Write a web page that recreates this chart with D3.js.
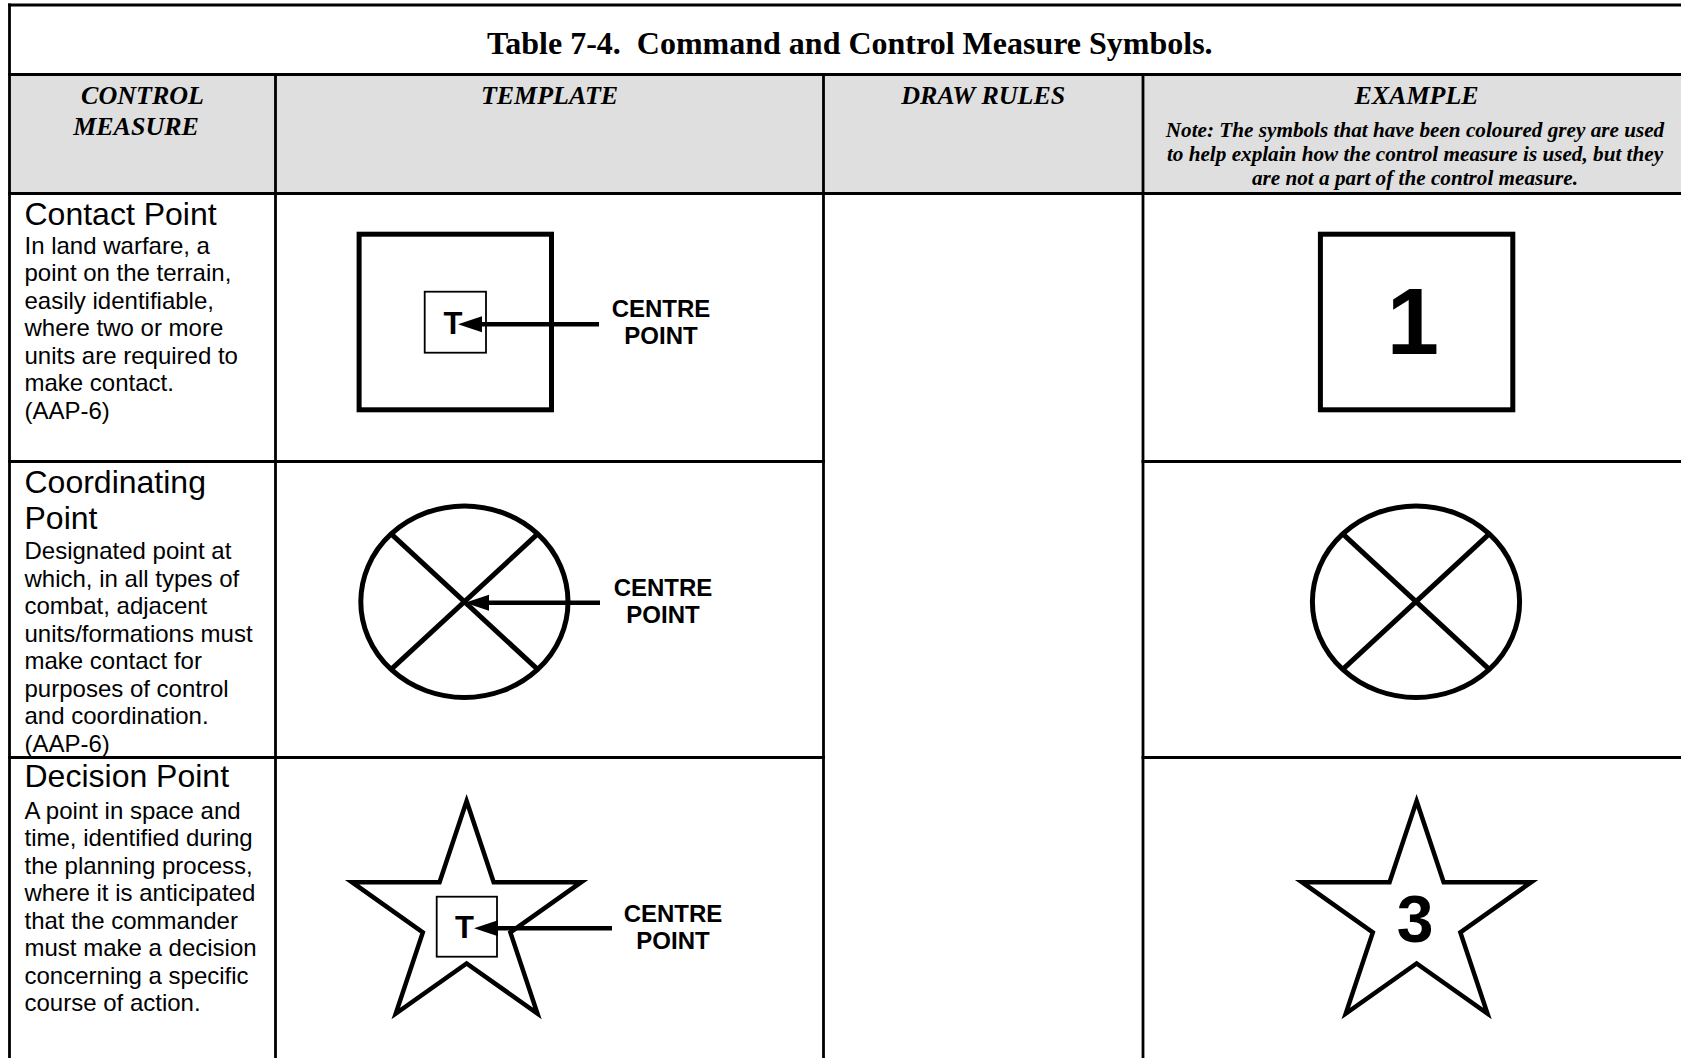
<!DOCTYPE html>
<html><head><meta charset="utf-8">
<script src="https://cdn.jsdelivr.net/npm/d3@7"></script>
<style>html,body{margin:0;padding:0;background:#fff;overflow:hidden}svg{display:block}</style>
</head><body><div id="chart"></div>
<script>
// ---------------- DATA ----------------
const tableTitle = "Table 7-4.  Command and Control Measure Symbols.";
const columnHeaders = [["CONTROL", "MEASURE"], ["TEMPLATE"], ["DRAW RULES"], ["EXAMPLE"]];
const exampleNote = [
  "Note: The symbols that have been coloured grey are used",
  "to help explain how the control measure is used, but they",
  "are not a part of the control measure."
];
const measureNames = [["Contact Point"], ["Coordinating", "Point"], ["Decision Point"]];
const measureDescriptions = [
  ["In land warfare, a", "point on the terrain,", "easily identifiable,", "where two or more", "units are required to", "make contact.", "(AAP-6)"],
  ["Designated point at", "which, in all types of", "combat, adjacent", "units/formations must", "make contact for", "purposes of control", "and coordination.", "(AAP-6)"],
  ["A point in space and", "time, identified during", "the planning process,", "where it is anticipated", "that the commander", "must make a decision", "concerning a specific", "course of action."]
];
const symbolTypes = ["square", "crossedCircle", "star"];
const templateMarker = ["T", "", "T"];
const calloutLabel = ["CENTRE", "POINT"];
const exampleLabels = ["1", "", "3"];

// ---------------- LAYOUT ----------------
const W = 1681, H = 1058;
const colEdges = [9.5, 275.5, 823.5, 1143, 1690];
const rowEdges = [5, 74.5, 193.5, 461.5, 757.5, 1130];
const lineW = 2.8;
const symbolCenterY = [322, 601.7, 918.5];
const templateCenterX = [455.3, 464.4, 466.6];
const exampleCenterX = [1416.6, 1416, 1416.6];
const symbolHalf = [[96.2, 87.8], [103.6, 95.8], [120.5, 117.5]]; // half width/height
const calloutX = [661, 663, 673];
const calloutBase = [317, 596, 921.5];
const arrowStartX = [599, 600, 612];
const arrowTipX = [458, 465, 474];
const arrowY = [324.3, 602.7, 928.3];
const markerBox = [[424.7, 291.7, 61.3, 61], null, [436.7, 896.7, 60.3, 60]];
const markerX = [453, null, 464.5];
const markerBase = [334, null, 938.3];
const nameBase = [[224.5], [492.5, 529], [787]];
const descBase0 = [253.5, 559, 818.5];
const descStep = 27.5;
const exampleLabelSize = [94, 0, 66];
const exampleLabelBase = [354.3, 0, 941.5];
const exampleLabelX = [1413, 0, 1415];

const serif = "'Liberation Serif','Times New Roman',serif";
const sans = "'Liberation Sans',Arial,Helvetica,sans-serif";

const svg = d3.select("#chart").append("svg").attr("width", W).attr("height", H);
svg.append("rect").attr("width", W).attr("height", H).attr("fill", "#fff");

const colX = d3.scaleOrdinal().domain(d3.range(colEdges.length)).range(colEdges);
const rowY = d3.scaleOrdinal().domain(d3.range(rowEdges.length)).range(rowEdges);

// header fill
svg.append("rect")
  .attr("x", colX(0)).attr("y", rowY(1))
  .attr("width", colX(4) - colX(0)).attr("height", rowY(2) - rowY(1))
  .attr("fill", "#dfdfdf");

// ---------------- GRID ----------------
const hLines = [
  {y: rowY(0), x1: colX(0), x2: colX(4)},
  {y: rowY(1), x1: colX(0), x2: colX(4)},
  {y: rowY(2), x1: colX(0), x2: colX(4)},
  {y: rowY(3), x1: colX(0), x2: colX(2)}, {y: rowY(3), x1: colX(3), x2: colX(4)},
  {y: rowY(4), x1: colX(0), x2: colX(2)}, {y: rowY(4), x1: colX(3), x2: colX(4)}
];
const vLines = [
  {x: colX(0), y1: rowY(0), y2: rowY(5)},
  {x: colX(1), y1: rowY(1), y2: rowY(5)},
  {x: colX(2), y1: rowY(1), y2: rowY(5)},
  {x: colX(3), y1: rowY(1), y2: rowY(5)},
  {x: colX(4), y1: rowY(0), y2: rowY(5)}
];
const grid = svg.append("g").attr("stroke", "#000").attr("stroke-width", lineW);
grid.selectAll("line.h").data(hLines).join("line").attr("class", "h")
  .attr("x1", d => d.x1 - lineW / 2).attr("x2", d => d.x2 + lineW / 2)
  .attr("y1", d => d.y).attr("y2", d => d.y);
grid.selectAll("line.v").data(vLines).join("line").attr("class", "v")
  .attr("x1", d => d.x).attr("x2", d => d.x)
  .attr("y1", d => d.y1 - lineW / 2).attr("y2", d => d.y2);

// ---------------- TITLE ----------------
svg.append("text")
  .attr("x", (colX(0) + colX(4)) / 2).attr("y", 54)
  .attr("text-anchor", "middle")
  .attr("font-family", serif).attr("font-weight", "bold").attr("font-size", 32)
  .attr("xml:space", "preserve").style("white-space", "pre")
  .text(tableTitle);

// ---------------- HEADERS ----------------
const headerCenters = [[142.5, 136], [null], [null], [null]];
const hdr = svg.append("g").attr("font-family", serif).attr("font-weight", "bold")
  .attr("font-style", "italic").attr("font-size", 26).attr("text-anchor", "middle");
columnHeaders.forEach((lines, c) => {
  const cx = (colX(c) + colX(c + 1)) / 2;
  hdr.selectAll(null).data(lines).join("text")
    .attr("x", (d, i) => (c === 0 ? headerCenters[0][i] : cx))
    .attr("y", (d, i) => 104 + i * 31)
    .text(d => d);
});
svg.append("g").attr("font-family", serif).attr("font-weight", "bold")
  .attr("font-style", "italic").attr("font-size", 21.2).attr("text-anchor", "middle")
  .selectAll("text").data(exampleNote).join("text")
  .attr("x", 1415).attr("y", (d, i) => 137 + i * 24)
  .text(d => d);

// ---------------- FIRST COLUMN ----------------
const col1 = svg.append("g").attr("font-family", sans).attr("fill", "#000");
measureNames.forEach((lines, r) => {
  col1.selectAll(null).data(lines).join("text")
    .attr("x", 24.5).attr("y", (d, i) => nameBase[r][i])
    .attr("font-size", 32).text(d => d);
  col1.selectAll(null).data(measureDescriptions[r]).join("text")
    .attr("x", 24.5).attr("y", (d, i) => descBase0[r] + i * descStep)
    .attr("font-size", 24).text(d => d);
});

// ---------------- SYMBOLS ----------------
const starLine = d3.line().curve(d3.curveLinearClosed);
function starPoints(cx, cy, rx, ry) {
  return d3.range(10).map(i => {
    const a = i * Math.PI / 5, k = i % 2 === 0 ? 1 : 0.382;
    return [cx + rx * k * Math.sin(a), cy - ry * k * Math.cos(a)];
  });
}
function drawSymbol(g, type, cx, cy, hw, hh) {
  const s = g.append("g").attr("fill", "none").attr("stroke", "#000").attr("stroke-width", 5);
  if (type === "square") {
    s.append("rect").attr("x", cx - hw).attr("y", cy - hh).attr("width", 2 * hw).attr("height", 2 * hh)
      .attr("stroke-linejoin", "miter");
  } else if (type === "crossedCircle") {
    s.append("ellipse").attr("cx", cx).attr("cy", cy).attr("rx", hw).attr("ry", hh);
    const c = Math.SQRT1_2;
    s.append("line").attr("x1", cx - hw * c).attr("y1", cy - hh * c).attr("x2", cx + hw * c).attr("y2", cy + hh * c);
    s.append("line").attr("x1", cx + hw * c).attr("y1", cy - hh * c).attr("x2", cx - hw * c).attr("y2", cy + hh * c);
  } else if (type === "star") {
    s.append("path").attr("d", starLine(starPoints(cx, cy, hw, hh))).attr("stroke-width", 4.5)
      .attr("stroke-linejoin", "miter").attr("stroke-miterlimit", 10);
  }
  return s;
}

symbolTypes.forEach((type, r) => {
  const [hw, hh] = symbolHalf[r];
  // template
  const gT = svg.append("g");
  drawSymbol(gT, type, templateCenterX[r], symbolCenterY[r], hw, hh);
  if (markerBox[r]) {
    const b = markerBox[r];
    gT.append("rect").attr("x", b[0]).attr("y", b[1]).attr("width", b[2]).attr("height", b[3])
      .attr("fill", "none").attr("stroke", "#000").attr("stroke-width", 1.8);
    gT.append("text").attr("x", markerX[r]).attr("y", markerBase[r]).attr("text-anchor", "middle")
      .attr("font-family", sans).attr("font-weight", "bold").attr("font-size", 31).text(templateMarker[r]);
  }
  // arrow
  gT.append("line").attr("x1", arrowStartX[r]).attr("x2", arrowTipX[r] + 20)
    .attr("y1", arrowY[r]).attr("y2", arrowY[r]).attr("stroke", "#000").attr("stroke-width", 4.5);
  gT.append("path").attr("d", d3.line()([[arrowTipX[r], arrowY[r]], [arrowTipX[r] + 24, arrowY[r] - 8], [arrowTipX[r] + 24, arrowY[r] + 8]]) + "Z")
    .attr("fill", "#000");
  gT.selectAll(null).data(calloutLabel).join("text")
    .attr("x", calloutX[r]).attr("y", (d, i) => calloutBase[r] + i * 27.3)
    .attr("text-anchor", "middle").attr("font-family", sans).attr("font-weight", "bold").attr("font-size", 24)
    .text(d => d);
  // example
  const gE = svg.append("g");
  drawSymbol(gE, type, exampleCenterX[r], symbolCenterY[r], hw, hh);
  if (exampleLabels[r]) {
    gE.append("text").attr("x", exampleLabelX[r]).attr("y", exampleLabelBase[r]).attr("text-anchor", "middle")
      .attr("font-family", sans).attr("font-weight", "bold").attr("font-size", exampleLabelSize[r])
      .text(exampleLabels[r]);
  }
});
</script>
</body></html>
